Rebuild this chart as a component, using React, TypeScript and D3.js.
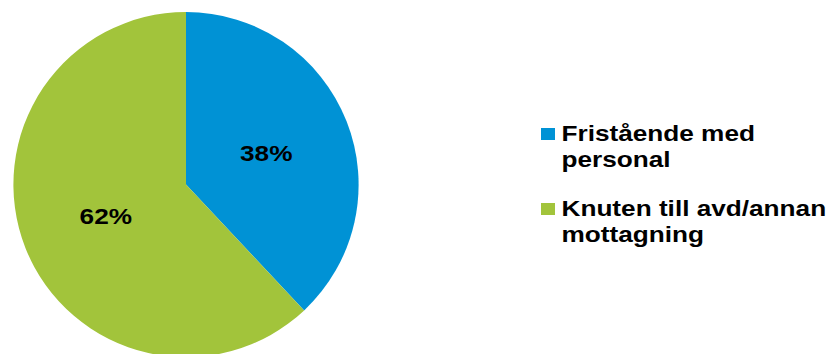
import React from "react";
import * as d3 from "d3";

const categories = ["Fristående med personal", "Knuten till avd/annan mottagning"];
const values = [38, 62];
const labels = ["38%", "62%"];
const legendLines = [["Fristående med", "personal"], ["Knuten till avd/annan", "mottagning"]];
const colors = ["#0092D5", "#A2C43B"];

const W = 832;
const H = 354;
const cx = 186;
const cy = 184.6;
const R = 172.6;
const SX = 1.19;

export default function App() {
  const pie = d3.pie<number>().sort(null).value((d) => d)(values);
  const arc = d3.arc<d3.PieArcDatum<number>>().innerRadius(0).outerRadius(R);
  const labelArc = d3.arc<d3.PieArcDatum<number>>().innerRadius(R * 0.5).outerRadius(R * 0.5);
  const font = "Arial, 'Liberation Sans', sans-serif";
  return (
    <svg width={W} height={H} style={{ position: "absolute", left: 0, top: 0 }}>
      <rect width={W} height={H} fill="#ffffff" />
      <g transform={`translate(${cx},${cy})`}>
        {pie.map((p, i) => (
          <path key={i} d={arc(p) || ""} fill={colors[i]} />
        ))}
        {pie.map((p, i) => {
          const [x, y] = labelArc.centroid(p);
          return (
            <text
              key={"l" + i}
              transform={`translate(${x},${y + 8}) scale(${SX},1)`}
              textAnchor="middle"
              fontFamily={font}
              fontWeight="bold"
              fontSize={22}
              fill="#000"
            >
              {labels[i]}
            </text>
          );
        })}
      </g>
      {categories.map((c, i) => {
        const base = 141 + i * 75;
        return (
          <g key={c}>
            <rect x={541} y={base - 13} width={14} height={12} fill={colors[i]} />
            {legendLines[i].map((ln, j) => (
              <text
                key={j}
                transform={`translate(561.5,${base + j * 26}) scale(${SX},1)`}
                fontFamily={font}
                fontWeight="bold"
                fontSize={22}
                fill="#000"
              >
                {ln}
              </text>
            ))}
          </g>
        );
      })}
    </svg>
  );
}
